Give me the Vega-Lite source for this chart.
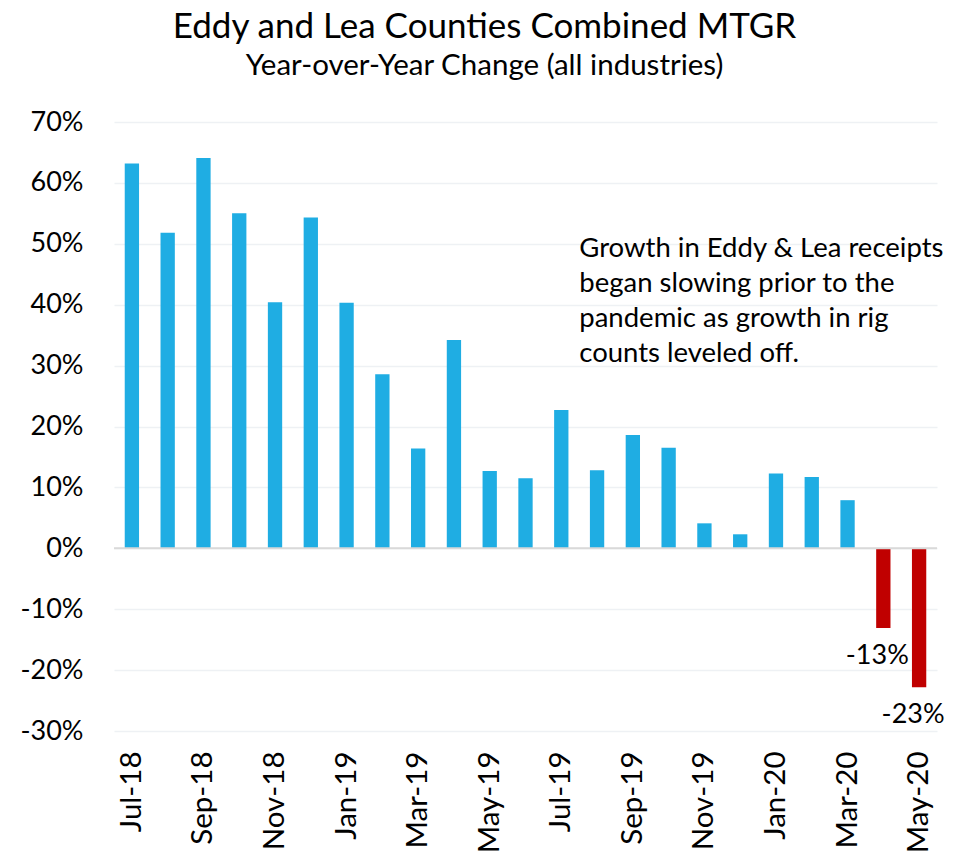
{
  "$schema": "https://vega.github.io/schema/vega-lite/v6.json",
  "width": 823,
  "height": 609,
  "autosize": {"type": "none"},
  "padding": {"left": 114, "top": 122, "right": 26, "bottom": 124},
  "background": "white",
  "config": {
    "font": "Lato",
    "view": {"stroke": null},
    "locale": {
      "number": {"decimal": ".", "thousands": ",", "grouping": [3], "currency": ["$", ""], "minus": "-", "percent": "%"}
    }
  },
  "title": {
    "text": "Eddy and Lea Counties Combined MTGR",
    "subtitle": "Year-over-Year Change (all industries)",
    "anchor": "middle",
    "dx": -41,
    "font": "Lato",
    "fontSize": 35,
    "fontWeight": "normal",
    "color": "black",
    "subtitleFont": "Lato",
    "subtitleFontSize": 29.5,
    "subtitleColor": "black",
    "subtitlePadding": 7,
    "offset": 28
  },
  "data": {
    "values": [
      {"month": "Jul-18", "value": 0.632},
      {"month": "Aug-18", "value": 0.518},
      {"month": "Sep-18", "value": 0.641},
      {"month": "Oct-18", "value": 0.550},
      {"month": "Nov-18", "value": 0.404},
      {"month": "Dec-18", "value": 0.543},
      {"month": "Jan-19", "value": 0.403},
      {"month": "Feb-19", "value": 0.286},
      {"month": "Mar-19", "value": 0.164},
      {"month": "Apr-19", "value": 0.342},
      {"month": "May-19", "value": 0.127},
      {"month": "Jun-19", "value": 0.115},
      {"month": "Jul-19", "value": 0.227},
      {"month": "Aug-19", "value": 0.128},
      {"month": "Sep-19", "value": 0.186},
      {"month": "Oct-19", "value": 0.165},
      {"month": "Nov-19", "value": 0.041},
      {"month": "Dec-19", "value": 0.023},
      {"month": "Jan-20", "value": 0.123},
      {"month": "Feb-20", "value": 0.117},
      {"month": "Mar-20", "value": 0.079},
      {"month": "Apr-20", "value": -0.131},
      {"month": "May-20", "value": -0.228}
    ]
  },
  "encoding": {
    "x": {
      "field": "month",
      "type": "nominal",
      "sort": null,
      "scale": {"paddingInner": 0.6, "paddingOuter": 0.3},
      "axis": {
        "title": null,
        "values": ["Jul-18", "Sep-18", "Nov-18", "Jan-19", "Mar-19", "May-19", "Jul-19", "Sep-19", "Nov-19", "Jan-20", "Mar-20", "May-20"],
        "labelAngle": -90,
        "labelFontSize": 29.5,
        "labelColor": "black",
        "labelPadding": 20,
        "ticks": false,
        "domain": false,
        "grid": false
      }
    }
  },
  "layer": [
    {
      "mark": {"type": "bar"},
      "encoding": {
        "y": {
          "field": "value",
          "type": "quantitative",
          "scale": {"domain": [-0.3, 0.7], "nice": false},
          "axis": {
            "title": null,
            "format": ".0%",
            "values": [-0.3, -0.2, -0.1, 0, 0.1, 0.2, 0.3, 0.4, 0.5, 0.6, 0.7],
            "labelFontSize": 27,
            "labelColor": "black",
            "labelPadding": 31,
            "ticks": false,
            "domain": false,
            "gridColor": "#EEF1F4",
            "gridWidth": 1.5
          }
        },
        "color": {
          "condition": {"test": "datum.value < 0", "value": "#C00000"},
          "value": "#1FADE3"
        }
      }
    },
    {
      "data": {"values": [{"zero": 0}]},
      "mark": {"type": "rule", "color": "#D9D9D9", "strokeWidth": 2},
      "encoding": {"y": {"field": "zero", "type": "quantitative"}, "x": null}
    },
    {
      "transform": [{"filter": "datum.value < 0"}],
      "mark": {"type": "text", "fontSize": 27, "baseline": "middle", "align": "center", "dy": 28, "dx": -6, "color": "black"},
      "encoding": {
        "y": {"field": "value", "type": "quantitative"},
        "text": {"field": "value", "type": "quantitative", "format": ".0%"}
      }
    },
    {
      "data": {"values": [{"month": "Jul-19", "y": 0.515, "note": "Growth in Eddy & Lea receipts|began slowing prior to the|pandemic as growth in rig|counts leveled off."}]},
      "mark": {"type": "text", "align": "left", "baseline": "top", "fontSize": 27.5, "lineBreak": "|", "lineHeight": 35, "dx": 18, "color": "black"},
      "encoding": {
        "x": {"field": "month", "type": "nominal", "sort": null},
        "y": {"field": "y", "type": "quantitative"},
        "text": {"field": "note", "type": "nominal"}
      }
    }
  ]
}
